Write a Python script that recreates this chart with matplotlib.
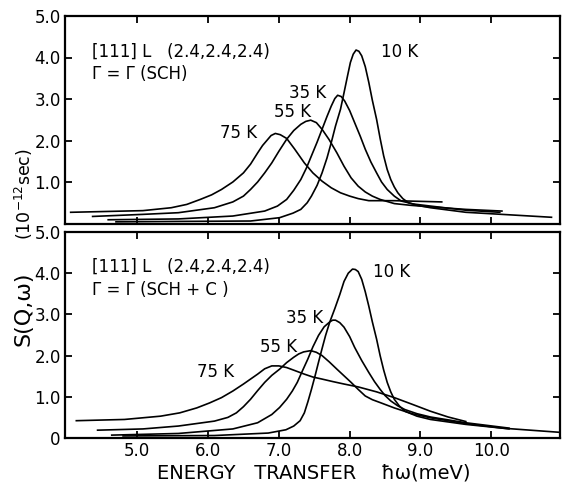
import matplotlib
matplotlib.use("Agg")
import matplotlib.pyplot as plt

# ---------------- data ----------------
# top panel: Gamma = Gamma(SCH)
top_10K_x = [4.70, 5.58, 6.60, 7.01, 7.20, 7.31, 7.40, 7.46, 7.54, 7.61, 7.68, 7.74, 7.80, 7.87, 7.92, 7.97, 8.01, 8.05, 8.09, 8.13, 8.17, 8.22, 8.27, 8.32, 8.38, 8.43, 8.48, 8.53, 8.58, 8.63, 8.68, 8.75, 8.83, 8.95, 9.14, 9.64, 10.15, 10.85]
top_10K_y = [0.04, 0.05, 0.06, 0.14, 0.25, 0.34, 0.50, 0.66, 0.92, 1.22, 1.58, 1.95, 2.35, 2.75, 3.15, 3.56, 3.88, 4.08, 4.18, 4.15, 4.04, 3.78, 3.40, 2.97, 2.51, 2.05, 1.63, 1.30, 1.06, 0.88, 0.74, 0.60, 0.50, 0.44, 0.38, 0.27, 0.22, 0.15]
top_35K_x = [4.59, 5.58, 6.35, 6.80, 6.98, 7.11, 7.21, 7.31, 7.39, 7.46, 7.54, 7.61, 7.68, 7.74, 7.79, 7.83, 7.88, 7.93, 8.00, 8.07, 8.15, 8.22, 8.30, 8.38, 8.45, 8.53, 8.63, 8.73, 8.90, 9.14, 9.64, 10.12]
top_35K_y = [0.09, 0.11, 0.18, 0.30, 0.42, 0.58, 0.80, 1.06, 1.34, 1.63, 1.96, 2.27, 2.58, 2.83, 3.01, 3.09, 3.06, 2.95, 2.72, 2.43, 2.10, 1.79, 1.48, 1.22, 1.00, 0.82, 0.66, 0.54, 0.47, 0.42, 0.32, 0.27]
top_55K_x = [4.37, 5.08, 5.58, 6.09, 6.35, 6.50, 6.60, 6.70, 6.80, 6.90, 7.00, 7.11, 7.21, 7.31, 7.38, 7.45, 7.53, 7.61, 7.71, 7.82, 7.92, 8.02, 8.12, 8.22, 8.32, 8.43, 8.63, 8.85, 9.14, 9.64, 10.15]
top_55K_y = [0.17, 0.22, 0.26, 0.38, 0.52, 0.66, 0.82, 1.00, 1.22, 1.46, 1.74, 2.03, 2.24, 2.39, 2.46, 2.49, 2.43, 2.27, 2.02, 1.70, 1.38, 1.10, 0.90, 0.76, 0.66, 0.58, 0.48, 0.44, 0.40, 0.34, 0.30]
top_75K_x = [4.06, 4.57, 5.08, 5.48, 5.70, 5.89, 6.05, 6.19, 6.35, 6.50, 6.60, 6.70, 6.77, 6.83, 6.89, 6.95, 7.02, 7.11, 7.22, 7.36, 7.48, 7.61, 7.74, 7.87, 8.00, 8.12, 8.27, 8.45, 8.63, 9.30]
top_75K_y = [0.27, 0.29, 0.31, 0.38, 0.46, 0.58, 0.69, 0.82, 1.00, 1.22, 1.43, 1.70, 1.88, 2.00, 2.12, 2.17, 2.14, 2.05, 1.80, 1.46, 1.22, 1.02, 0.86, 0.74, 0.66, 0.60, 0.55, 0.55, 0.55, 0.52]

# bottom panel: Gamma = Gamma(SCH + C)
bot_10K_x = [4.80, 6.09, 6.85, 7.10, 7.21, 7.30, 7.36, 7.41, 7.46, 7.51, 7.56, 7.61, 7.66, 7.72, 7.79, 7.86, 7.92, 7.98, 8.04, 8.08, 8.12, 8.17, 8.22, 8.27, 8.32, 8.38, 8.43, 8.48, 8.53, 8.58, 8.63, 8.70, 8.78, 8.95, 9.14, 9.64, 10.15, 10.95]
bot_10K_y = [0.05, 0.06, 0.12, 0.20, 0.29, 0.42, 0.61, 0.88, 1.18, 1.50, 1.84, 2.17, 2.49, 2.82, 3.14, 3.48, 3.80, 4.00, 4.10, 4.09, 4.04, 3.85, 3.55, 3.20, 2.82, 2.40, 2.00, 1.65, 1.35, 1.12, 0.94, 0.78, 0.65, 0.53, 0.45, 0.33, 0.24, 0.14]
bot_35K_x = [4.64, 5.58, 6.35, 6.70, 6.90, 7.01, 7.11, 7.19, 7.26, 7.33, 7.41, 7.48, 7.56, 7.64, 7.72, 7.76, 7.80, 7.86, 7.92, 8.00, 8.07, 8.17, 8.27, 8.35, 8.43, 8.50, 8.58, 8.68, 8.78, 8.95, 9.14, 9.64, 10.25]
bot_35K_y = [0.07, 0.11, 0.22, 0.37, 0.57, 0.74, 0.94, 1.14, 1.35, 1.62, 1.92, 2.21, 2.49, 2.70, 2.82, 2.86, 2.86, 2.80, 2.69, 2.46, 2.20, 1.88, 1.59, 1.37, 1.18, 1.03, 0.90, 0.78, 0.69, 0.59, 0.51, 0.37, 0.24]
bot_55K_x = [4.44, 5.08, 5.58, 6.09, 6.28, 6.40, 6.50, 6.60, 6.70, 6.80, 6.90, 7.01, 7.11, 7.21, 7.28, 7.35, 7.45, 7.53, 7.61, 7.71, 7.82, 7.92, 8.02, 8.12, 8.22, 8.32, 8.43, 8.63, 8.88, 9.14, 9.64, 10.25]
bot_55K_y = [0.19, 0.22, 0.29, 0.41, 0.50, 0.61, 0.76, 0.94, 1.15, 1.35, 1.52, 1.67, 1.83, 1.96, 2.04, 2.09, 2.12, 2.08, 2.00, 1.85, 1.67, 1.51, 1.35, 1.18, 1.02, 0.93, 0.86, 0.73, 0.59, 0.49, 0.35, 0.22]
bot_75K_x = [4.14, 4.82, 5.33, 5.60, 5.84, 6.02, 6.19, 6.35, 6.50, 6.60, 6.70, 6.80, 6.90, 7.00, 7.11, 7.22, 7.36, 7.48, 7.61, 7.76, 7.92, 8.12, 8.38, 8.63, 8.88, 9.14, 9.39, 9.64]
bot_75K_y = [0.42, 0.45, 0.53, 0.61, 0.73, 0.85, 0.98, 1.14, 1.31, 1.43, 1.55, 1.68, 1.75, 1.75, 1.71, 1.64, 1.55, 1.48, 1.43, 1.37, 1.31, 1.24, 1.12, 0.98, 0.82, 0.65, 0.51, 0.40]

x_ticks = [5.0, 6.0, 7.0, 8.0, 9.0, 10.0]
x_ticklabels = ["5.0", "6.0", "7.0", "8.0", "9.0", "10.0"]
top_yticks = [1.0, 2.0, 3.0, 4.0, 5.0]
top_yticklabels = ["1.0", "2.0", "3.0", "4.0", "5.0"]
bot_yticks = [0.0, 1.0, 2.0, 3.0, 4.0, 5.0]
bot_yticklabels = ["0", "1.0", "2.0", "3.0", "4.0", "5.0"]

plt.rcParams['font.family'] = ['DejaVu Sans']

W, H = 563, 484
fig = plt.figure(figsize=(W / 100, H / 100), dpi=100)

left = 65 / W
width = (560 - 65) / W
ax1 = fig.add_axes([left, 1 - 223.5 / H, width, 207.5 / H])
ax2 = fig.add_axes([left, 1 - 438 / H, width, 206 / H])

lw = 1.2
for ax in (ax1, ax2):
    ax.set_xlim(3.98, 10.97)
    ax.set_ylim(0, 5.0)
    for s in ax.spines.values():
        s.set_linewidth(1.6)
    ax.set_xticks(x_ticks)
    ax.tick_params(axis='both', direction='in', length=5, width=1.3,
                   top=True, right=True, labelsize=12, pad=3)

for xs, ys in ((top_10K_x, top_10K_y), (top_35K_x, top_35K_y),
               (top_55K_x, top_55K_y), (top_75K_x, top_75K_y)):
    ax1.plot(xs, ys, color='black', lw=lw, solid_joinstyle='round')
ax1.set_xticklabels([])
ax1.set_yticks(top_yticks)
ax1.set_yticklabels(top_yticklabels)

for xs, ys in ((bot_10K_x, bot_10K_y), (bot_35K_x, bot_35K_y),
               (bot_55K_x, bot_55K_y), (bot_75K_x, bot_75K_y)):
    ax2.plot(xs, ys, color='black', lw=lw, solid_joinstyle='round')
ax2.set_xticklabels(x_ticklabels)
ax2.set_yticks(bot_yticks)
ax2.set_yticklabels(bot_yticklabels)

fs = 12
# panel annotations
for ax, sub in ((ax1, "Γ = Γ (SCH)"), (ax2, "Γ = Γ (SCH + C )")):
    ax.text(0.055, 0.83, "[111] L   (2.4,2.4,2.4)", transform=ax.transAxes,
            fontsize=fs, va='center', ha='left')
    ax.text(0.055, 0.72, sub, transform=ax.transAxes,
            fontsize=fs, va='center', ha='left')

ax1.text(8.7, 4.14, "10 K", fontsize=fs, ha='center', va='center')
ax1.text(7.41, 3.15, "35 K", fontsize=fs, ha='center', va='center')
ax1.text(7.19, 2.69, "55 K", fontsize=fs, ha='center', va='center')
ax1.text(6.43, 2.19, "75 K", fontsize=fs, ha='center', va='center')

ax2.text(8.59, 4.03, "10 K", fontsize=fs, ha='center', va='center')
ax2.text(7.37, 2.91, "35 K", fontsize=fs, ha='center', va='center')
ax2.text(7.0, 2.20, "55 K", fontsize=fs, ha='center', va='center')
ax2.text(6.11, 1.60, "75 K", fontsize=fs, ha='center', va='center')

# axis titles
fig.text(314 / W, 1 - 473 / H, "ENERGY   TRANSFER    ħω(meV)", fontsize=14,
         ha='center', va='center')
fig.text(24 / W, 1 - 194 / H, "(10$^{-12}$sec)", fontsize=12.5, rotation=90,
         ha='center', va='center')
fig.text(24 / W, 1 - 309 / H, "S(Q,ω)", fontsize=16, rotation=90,
         ha='center', va='center')

fig.savefig("out.png", dpi=100)
